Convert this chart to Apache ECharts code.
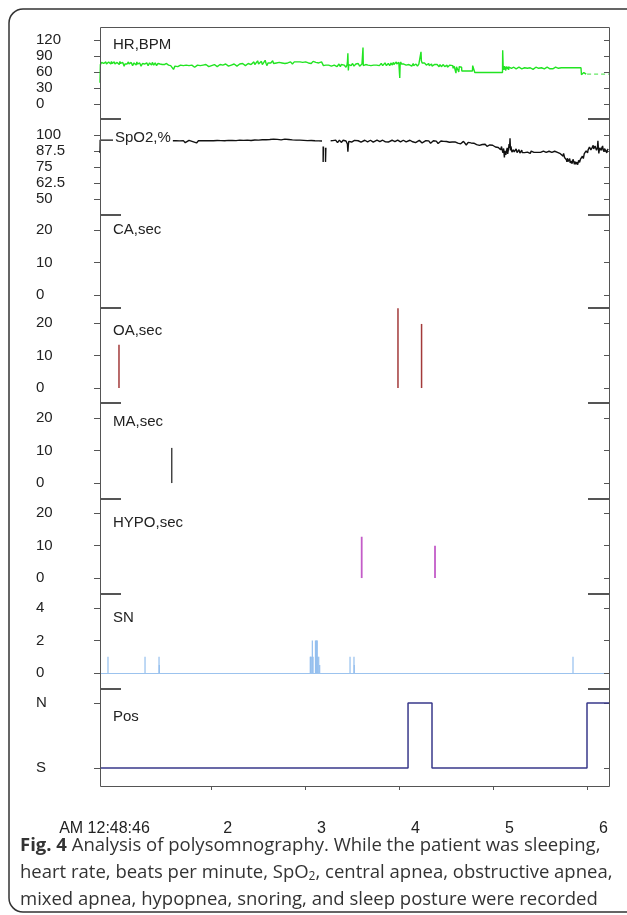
<!DOCTYPE html>
<html>
<head>
<meta charset="utf-8">
<script src="https://cdn.jsdelivr.net/npm/echarts@6/dist/echarts.min.js"></script>
<style>
  html, body { margin: 0; padding: 0; background: #fff; }
  #chart-container { width: 627px; height: 915px; }
</style>
</head>
<body>
<div id="chart-container"></div>
<script>
// time in decimal hours after midnight (0.813 = 12:48:46 AM)
var tStart = 0.813;
var tEnd = 6.228;

var xLabelValues = [0.813, 2, 3, 4, 5, 6];
var xLabelTexts = ["AM 12:48:46", "2", "3", "4", "5", "6"];
var xTickValues = [2, 3, 4, 5, 6];

var panelNames = ["HR,BPM", "SpO2,%", "CA,sec", "OA,sec", "MA,sec", "HYPO,sec", "SN", "Pos"];
var hrTicks = [0, 30, 60, 90, 120];
var spo2Ticks = [50, 62.5, 75, 87.5, 100];
var secTicks = [0, 10, 20];
var snTicks = [0, 2, 4];
var posTicks = [0, 1];
var posLabels = ["S", "N"];

var hrData = [
  [0.813,40],[0.817,74],[0.83,78],[0.838,75],[0.845,80],[0.852,76],[0.86,77],[0.868,74],[0.875,79],[0.882,75],
  [0.89,77],[0.898,74],[0.905,79],[0.912,76],[0.92,78],[0.928,75],[0.935,80],[0.942,76],[0.95,77],[0.958,74],
  [0.965,79],[0.972,75],[0.98,73],[0.988,77],[0.995,78],[1.002,75],[1.01,77],[1.018,74],[1.025,80],[1.032,76],
  [1.04,74],[1.048,77],[1.055,78],[1.062,75],[1.07,71],[1.078,75],[1.085,77],[1.092,74],[1.10,75],[1.108,73],
  [1.115,79],[1.122,75],[1.13,76],[1.138,73],[1.145,78],[1.152,75],[1.16,72],[1.168,75],[1.175,77],[1.182,74],
  [1.19,76],[1.198,73],[1.205,79],[1.212,75],[1.22,73],[1.228,76],[1.235,77],[1.242,74],[1.25,71],[1.258,74],
  [1.265,76],[1.272,74],[1.28,78],[1.288,75],[1.295,73],[1.302,76],[1.31,77],[1.318,74],[1.325,72],[1.332,75],
  [1.34,77],[1.348,74],[1.355,76],[1.362,73],[1.37,78],[1.378,75],[1.385,73],[1.392,76],[1.40,77],[1.408,74],
  [1.415,72],[1.422,75],[1.43,76],[1.438,74],[1.445,78],[1.452,75],[1.46,73],[1.468,76],[1.475,74],[1.482,76],
  [1.49,77],[1.498,74],[1.505,72],[1.512,75],[1.52,76],[1.528,73],[1.535,75],[1.542,73],[1.55,76],[1.565,72],
  [1.58,74],[1.595,65],[1.61,71],[1.625,73],[1.64,70],[1.655,72],[1.67,73],[1.685,71],[1.70,72],[1.715,70],
  [1.73,73],[1.745,71],[1.76,72],[1.775,70],[1.79,73],[1.805,71],[1.82,69],[1.835,72],[1.85,73],[1.865,71],
  [1.88,72],[1.895,70],[1.91,73],[1.925,71],[1.94,74],[1.955,72],[1.97,70],[1.985,73],[2.00,72],[2.015,71],
  [2.03,74],[2.045,72],[2.06,70],[2.075,73],[2.09,74],[2.105,72],[2.12,73],[2.135,71],[2.15,75],[2.165,72],
  [2.18,71],[2.195,74],[2.21,73],[2.225,71],[2.24,75],[2.255,73],[2.27,71],[2.285,74],[2.30,75],[2.315,72],
  [2.33,76],[2.345,73],[2.36,72],[2.375,75],[2.39,76],[2.40,73],[2.41,78],[2.42,74],[2.43,72],[2.44,77],
  [2.45,79],[2.46,74],[2.47,76],[2.48,73],[2.49,81],[2.50,75],[2.51,73],[2.52,78],[2.53,80],[2.54,74],
  [2.55,77],[2.56,75],[2.57,82],[2.58,76],[2.59,72],[2.60,77],[2.61,79],[2.62,74],[2.63,77],[2.64,75],
  [2.65,81],[2.66,76],[2.67,73],[2.68,78],[2.69,77],[2.70,74],[2.71,76],[2.72,78],[2.73,80],[2.74,75],
  [2.75,77],[2.76,74],[2.77,79],[2.78,76],[2.79,74],[2.80,78],[2.81,77],[2.82,75],[2.83,77],[2.84,79],
  [2.85,78],[2.86,75],[2.87,77],[2.88,79],[2.89,76],[2.90,78],[2.91,79],[2.92,76],[2.93,77],[2.94,79],
  [2.95,78],[2.96,76],[2.97,78],[2.98,79],[2.99,77],[3.00,79],[3.01,76],[3.02,78],[3.03,77],[3.04,79],
  [3.05,78],[3.06,76],[3.07,78],[3.08,80],[3.09,78],[3.10,77],[3.11,78],[3.12,76],[3.13,79],[3.14,77],
  [3.15,78],[3.16,76],[3.17,79],[3.185,78],[3.19,72],[3.20,74],[3.205,71],[3.215,73],[3.22,71],[3.23,74],
  [3.235,70],[3.245,73],[3.25,72],[3.26,70],[3.265,73],[3.275,71],[3.28,74],[3.29,72],[3.295,70],[3.305,73],
  [3.31,71],[3.32,74],[3.325,72],[3.335,70],[3.34,73],[3.35,72],[3.355,75],[3.365,72],[3.37,70],[3.38,74],
  [3.385,72],[3.395,74],[3.40,71],[3.41,73],[3.415,75],[3.425,72],[3.43,69],[3.44,73],[3.445,78],[3.450,95],
  [3.455,63],[3.46,74],[3.465,71],[3.47,73],[3.48,75],[3.485,72],[3.49,74],[3.50,76],[3.505,73],[3.515,71],
  [3.52,74],[3.53,73],[3.535,75],[3.545,72],[3.55,74],[3.56,76],[3.565,73],[3.575,71],[3.58,74],[3.59,73],
  [3.60,75],[3.608,73],[3.611,106],[3.614,72],[3.62,75],[3.625,73],[3.635,71],[3.64,74],[3.65,72],[3.655,75],
  [3.665,73],[3.67,71],[3.68,74],[3.685,76],[3.695,72],[3.70,74],[3.71,72],[3.715,75],[3.725,73],[3.73,71],
  [3.74,74],[3.745,76],[3.755,73],[3.76,72],[3.77,74],[3.775,75],[3.785,72],[3.79,71],[3.80,74],[3.805,76],
  [3.815,73],[3.82,72],[3.83,75],[3.835,73],[3.845,77],[3.85,74],[3.86,72],[3.865,75],[3.875,73],[3.88,76],
  [3.89,74],[3.895,72],[3.905,75],[3.91,77],[3.92,73],[3.925,75],[3.935,78],[3.94,74],[3.95,76],[3.955,73],
  [3.965,79],[3.97,75],[3.98,77],[3.985,74],[3.992,78],[3.998,75],[4.002,49],[4.006,74],[4.012,79],[4.02,75],
  [4.03,73],[4.04,77],[4.045,75],[4.055,72],[4.06,75],[4.07,73],[4.075,76],[4.085,73],[4.09,71],[4.10,74],
  [4.105,72],[4.115,75],[4.12,73],[4.13,71],[4.135,74],[4.145,76],[4.15,72],[4.16,74],[4.165,72],[4.175,75],
  [4.18,73],[4.19,71],[4.195,74],[4.205,75],[4.21,72],[4.22,74],[4.225,75],[4.228,98],[4.232,81],[4.24,77],
  [4.25,78],[4.255,75],[4.265,77],[4.27,74],[4.28,76],[4.285,73],[4.295,75],[4.30,74],[4.31,76],[4.315,72],
  [4.325,74],[4.33,73],[4.34,75],[4.345,71],[4.355,74],[4.36,72],[4.37,74],[4.375,71],[4.385,73],[4.39,72],
  [4.40,74],[4.405,71],[4.415,73],[4.42,70],[4.43,74],[4.435,72],[4.445,70],[4.45,73],[4.46,71],[4.465,74],
  [4.475,72],[4.48,70],[4.49,73],[4.495,71],[4.505,73],[4.51,69],[4.52,72],[4.525,70],[4.535,73],[4.54,71],
  [4.55,72],[4.555,70],[4.565,72],[4.57,67],[4.58,71],[4.585,72],[4.595,70],[4.60,58],[4.605,70],[4.615,72],
  [4.62,70],[4.63,60],[4.635,70],[4.645,69],[4.655,70],[4.66,69],[4.662,62],[4.775,62],[4.778,72],[4.79,70],
  [4.80,59],[5.095,59],[5.097,101],[5.102,70],[5.106,67],[5.11,64],[5.115,71],[5.12,69],[5.125,72],[5.13,63],
  [5.135,70],[5.14,68],[5.145,72],[5.15,66],[5.155,70],[5.16,64],[5.165,69],[5.17,67],[5.175,70],[5.18,66],
  [5.185,69],[5.19,67],[5.195,70],[5.20,65],[5.205,68],[5.21,66],[5.215,69],[5.22,67],[5.23,68],[5.24,66],
  [5.25,68],[5.26,65],[5.27,69],[5.28,67],[5.29,68],[5.30,66],[5.31,69],[5.32,67],[5.33,68],[5.34,65],
  [5.35,68],[5.36,67],[5.37,69],[5.38,66],[5.39,68],[5.40,67],[5.41,69],[5.42,65],[5.43,68],[5.44,67],
  [5.45,69],[5.46,66],[5.47,68],[5.48,67],[5.49,69],[5.50,65],[5.51,68],[5.52,67],[5.53,69],[5.54,66],
  [5.55,68],[5.56,66],[5.57,69],[5.58,67],[5.59,68],[5.60,66],[5.61,68],[5.62,69],[5.63,66],[5.64,68],
  [5.65,67],[5.66,69],[5.67,66],[5.68,68],[5.69,67],[5.70,68],[5.71,66],[5.72,68],[5.73,67],[5.74,68],
  [5.93,68],[5.935,55],[5.95,56],[5.96,59],[5.97,57],[5.985,56]
];
var hrTailData = [[5.995,56],[6.228,56]];

var spo2Data = [
  [0.813,86],[0.815,96],[0.95,96],[1.58,95.5],[1.60,95.8],[1.62,95.6],[1.64,94.6],[1.66,95.4],[1.68,95.7],[1.70,95.6],
  [1.72,94.0],[1.74,95.5],[1.76,95.8],[1.78,95.6],[1.80,94.8],[1.82,95.4],[1.84,93.8],[1.86,95.5],[1.88,95.9],[1.90,95.6],
  [1.92,94.7],[1.94,95.5],[1.96,94.1],[1.98,95.6],[2.00,95.9],[2.02,95.5],[2.04,94.6],[2.06,95.7],[2.08,94.3],[2.10,95.6],
  [2.12,96.0],[2.14,95.5],[2.16,94.8],[2.18,95.8],[2.20,94.4],[2.22,95.7],[2.24,96.1],[2.26,95.6],[2.28,94.9],[2.30,96.0],
  [2.32,94.6],[2.34,95.8],[2.36,96.3],[2.38,96.0],[2.40,95.0],[2.42,95.7],[2.44,94.6],[2.46,96.1],[2.48,96.6],[2.50,96.0],
  [2.52,95.1],[2.54,96.3],[2.56,95.0],[2.58,96.3],[2.60,96.8],[2.62,96.5],[2.64,95.1],[2.66,96.8],[2.68,97.2],[2.70,96.6],
  [2.72,97.4],[2.74,96.2],[2.76,97.0],[2.78,96.8],[2.80,95.4],[2.82,96.5],[2.84,96.9],[2.86,96.2],[2.88,95.3],[2.90,96.0],
  [2.92,94.8],[2.94,96.0],[2.96,96.3],[2.98,95.8],[3.00,94.9],[3.02,95.6],[3.04,94.3],[3.06,95.7],[3.08,96.0],[3.10,95.5],
  [3.12,94.7],[3.14,95.4],[3.16,94.4],[3.175,95.3],[3.18,"-"],
  [3.187,91],[3.187,79],[3.19,79.5],[3.19,91],[3.20,"-"],[3.212,90],[3.212,79],[3.216,80],[3.216,90],[3.23,"-"],
  [3.267,95.5],[3.28,96.0],[3.29,95.6],[3.30,94.3],[3.31,95.4],[3.32,96.0],[3.33,95.5],[3.34,94.0],[3.35,95.2],[3.36,96.0],
  [3.37,95.6],[3.38,94.2],[3.39,95.2],[3.40,95.9],[3.41,94.5],[3.42,95.6],[3.43,95.3],[3.44,94.0],[3.445,93.0],[3.450,87],
  [3.455,92],[3.46,95.0],[3.47,95.8],[3.48,95.5],[3.49,94.5],[3.51,95.3],[3.52,95.8],[3.53,95.5],[3.54,94.6],[3.56,95.5],
  [3.58,95.8],[3.59,94.5],[3.61,95.6],[3.63,95.9],[3.64,95.4],[3.66,94.7],[3.67,95.7],[3.69,95.9],[3.70,95.4],[3.72,94.4],
  [3.74,95.6],[3.76,95.9],[3.77,95.5],[3.79,94.8],[3.80,95.7],[3.82,95.9],[3.83,95.4],[3.85,94.6],[3.86,95.6],[3.88,94.5],
  [3.90,95.7],[3.92,95.9],[3.93,95.6],[3.95,94.8],[3.96,95.8],[3.98,96.0],[3.99,95.5],[4.01,94.6],[4.02,95.4],[4.04,95.9],
  [4.05,95.7],[4.07,94.6],[4.09,95.6],[4.11,95.9],[4.12,95.5],[4.14,94.7],[4.15,95.4],[4.17,94.0],[4.19,95.3],[4.21,95.8],
  [4.22,95.0],[4.23,94.5],[4.24,93.8],[4.26,95.2],[4.28,95.6],[4.29,94.6],[4.30,95.0],[4.31,95.4],[4.32,94.5],[4.33,93.6],
  [4.35,94.9],[4.36,95.5],[4.37,94.4],[4.38,94.9],[4.39,95.2],[4.40,94.3],[4.41,93.4],[4.42,94.5],[4.43,94.8],[4.44,95.3],
  [4.45,94.5],[4.46,94.0],[4.47,95.0],[4.48,94.4],[4.49,93.7],[4.50,94.9],[4.51,94.7],[4.52,95.2],[4.53,94.3],[4.54,93.9],
  [4.55,95.1],[4.56,94.5],[4.57,93.3],[4.58,94.2],[4.59,94.6],[4.60,95.1],[4.61,94.0],[4.62,93.6],[4.63,95.0],[4.64,94.4],
  [4.65,93.1],[4.66,94.0],[4.67,94.5],[4.68,95.0],[4.69,94.0],[4.70,93.5],[4.71,92.2],[4.72,93.4],[4.73,94.2],[4.74,94.8],
  [4.745,95.4],[4.75,94.2],[4.76,93.8],[4.77,93.0],[4.78,92.6],[4.79,93.6],[4.80,93.4],[4.81,92.4],[4.82,92.5],[4.83,93.4],
  [4.84,93.0],[4.85,91.9],[4.86,92.1],[4.87,93.0],[4.88,92.6],[4.89,91.6],[4.90,91.8],[4.91,92.8],[4.92,92.3],[4.93,91.2],
  [4.94,91.5],[4.95,92.5],[4.96,92.2],[4.97,91.0],[4.98,91.3],[4.99,92.0],[5.00,91.8],[5.01,90.8],[5.02,90.6],[5.03,91.6],
  [5.04,91.2],[5.05,90.2],[5.06,90.5],[5.07,89.6],[5.075,88.5],[5.085,91],[5.09,88.6],[5.10,86],[5.107,89.5],[5.115,82.4],
  [5.12,87.6],[5.125,89],[5.13,84.4],[5.135,85],[5.14,88.4],[5.145,90],[5.15,85.2],[5.155,86.5],[5.16,89.5],[5.165,93],
  [5.17,90],[5.175,97.4],[5.18,88],[5.185,91.2],[5.19,90],[5.195,86.6],[5.20,86.5],[5.21,88.4],[5.215,89],[5.22,86.8],
  [5.23,87],[5.24,89.2],[5.245,88.5],[5.25,86.2],[5.26,86.5],[5.27,88.6],[5.275,88],[5.28,85.9],[5.29,87],[5.30,88.1],
  [5.305,86.3],[5.31,85.8],[5.32,87.5],[5.33,86.2],[5.34,86.4],[5.35,87.3],[5.36,86.6],[5.37,86.4],[5.38,86.4],[5.39,85.6],
  [5.40,87.4],[5.41,86.4],[5.43,86.4],[5.44,86.5],[5.45,85.6],[5.46,86.4],[5.47,87.3],[5.48,86.4],[5.50,86.4],[5.51,86.4],
  [5.52,85.6],[5.53,87.4],[5.54,86.4],[5.56,86.4],[5.57,86.4],[5.58,85.6],[5.59,87.3],[5.60,86.4],[5.62,86.4],[5.63,86.4],
  [5.64,85.6],[5.65,87.3],[5.66,86.4],[5.68,86.4],[5.69,86.4],[5.70,87.0],[5.71,85.4],[5.72,85.0],[5.73,84.0],[5.74,83.5],
  [5.745,85.6],[5.75,85],[5.755,82.4],[5.76,81],[5.765,83.6],[5.77,84],[5.775,80.6],[5.78,79],[5.785,81.8],[5.79,82.5],
  [5.795,79.4],[5.80,78],[5.805,80.8],[5.81,81.5],[5.815,78.2],[5.82,77.5],[5.825,79.8],[5.83,80.5],[5.835,77.6],[5.84,78],
  [5.845,81],[5.85,82],[5.855,78.6],[5.86,77],[5.865,79.4],[5.87,80],[5.875,77.2],[5.88,76.5],[5.885,78.8],[5.89,79.5],
  [5.895,76.8],[5.90,77],[5.905,80.2],[5.91,81],[5.915,78.6],[5.92,78],[5.925,81.2],[5.93,82],[5.94,80],[5.945,83.4],
  [5.95,84],[5.955,81.6],[5.96,82],[5.965,85.4],[5.97,86],[5.975,84],[5.98,84.5],[5.985,87.6],[5.99,88],[6.00,86],
  [6.005,88.2],[6.01,89],[6.02,90.6],[6.03,91],[6.035,88.4],[6.045,87],[6.05,90.4],[6.06,92],[6.065,89.2],[6.075,88],
  [6.08,91.4],[6.09,90.5],[6.095,88],[6.10,86.5],[6.105,90.2],[6.11,95.5],[6.115,89.6],[6.12,85.6],[6.125,88.4],[6.13,90],
  [6.14,91.4],[6.145,88],[6.15,89.6],[6.16,91.5],[6.165,88.6],[6.175,87],[6.18,89.4],[6.19,90],[6.195,87.6],[6.205,86],
  [6.21,88.2],[6.22,89]
];

var caData = [];
var oaData = [[1.015,13.3],[3.983,24.5],[4.234,19.7]];
var maData = [[1.576,10.8]];
var hypoData = [[3.597,12.7],[4.377,9.9]];
var snData = [
  [0.898,1],[1.292,1],[1.441,1],[1.444,0.5],
  [3.050,1],[3.055,1],[3.060,1],[3.072,2],[3.080,1],[3.105,2],[3.112,2],[3.118,2],[3.124,2],[3.130,1],[3.140,1],[3.150,0.5],
  [3.473,1],[3.515,1],[3.518,0.5],[5.845,1]
];
var posData = [[0.813,0],[4.09,1],[4.345,0],[5.994,1],[6.228,1]];

// layout
var panelEdges = [27, 119, 215, 308, 403, 499, 594, 689, 786];
var yRanges = [[-28.1,144.4],[37.5,112.5],[-4,24.6],[-4.6,24.6],[-4.9,24.6],[-4.9,24.3],[-0.98,4.86],[-0.277,1.215]];
var yTicks = [hrTicks, spo2Ticks, secTicks, secTicks, secTicks, secTicks, snTicks, posTicks];
var nameTops = [37, 130, 222, 323, 414, 515, 610, 709];
var plotLeft = 100, plotRight = 609;

var font = "Liberation Sans";
var frameColor = "#555";

var grids = [], xAxes = [], yAxes = [], titles = [];
for (var i = 0; i < 8; i++) {
  grids.push({ left: plotLeft, width: plotRight - plotLeft, top: panelEdges[i], height: panelEdges[i + 1] - panelEdges[i] });

  var xa = { gridIndex: i, type: "value", min: tStart, max: tEnd, show: false };
  if (i === 6) {
    xa = {
      gridIndex: i, type: "value", min: tStart, max: tEnd,
      axisLine: { show: true, onZero: true, lineStyle: { color: "#9cc3ee", width: 1.2 } },
      axisTick: { show: false }, axisLabel: { show: false }, splitLine: { show: false }
    };
  }
  if (i === 7) {
    xa = {
      gridIndex: i, type: "value", min: tStart, max: tEnd,
      axisLine: { show: false, onZero: false },
      splitLine: { show: false },
      axisTick: { show: true, length: 4, customValues: xTickValues, lineStyle: { color: frameColor } },
      axisLabel: {
        customValues: xLabelValues,
        margin: 35,
        formatter: function (v) {
          var k = 0;
          for (var j = 0; j < xLabelValues.length; j++) {
            if (Math.abs(xLabelValues[j] - v) < 1e-6) k = j;
          }
          return (k === 0 ? "{a|" : "{b|") + xLabelTexts[k] + "}";
        },
        rich: {
          a: { fontSize: 16, fontFamily: font, color: "#222", padding: [0, 0, 0, 9] },
          b: { fontSize: 16, fontFamily: font, color: "#222", padding: [0, 0, 0, 32] }
        }
      }
    };
  }
  xAxes.push(xa);

  (function (ticks, idx) {
    yAxes.push({
      gridIndex: idx, type: "value", position: "left",
      min: yRanges[idx][0], max: yRanges[idx][1],
      axisLine: { show: false }, splitLine: { show: false },
      axisTick: { show: true, length: 6, customValues: ticks, lineStyle: { color: frameColor } },
      axisLabel: {
        customValues: ticks, align: "left", margin: 64,
        fontSize: 15, fontFamily: font, color: "#222",
        formatter: function (v) {
          return idx === 7 ? posLabels[Math.round(v)] : String(v);
        }
      }
    });
    yAxes.push({
      gridIndex: idx, type: "value", position: "right",
      min: yRanges[idx][0], max: yRanges[idx][1],
      axisLine: { show: false }, splitLine: { show: false },
      axisTick: { show: true, inside: true, length: 5, customValues: ticks, lineStyle: { color: frameColor } },
      axisLabel: { show: false }
    });
  })(yTicks[i], i);

  titles.push({
    text: panelNames[i], left: 113, top: nameTops[i],
    padding: i === 1 ? [0, 2, 0, 2] : 0,
    backgroundColor: i === 1 ? "#fff" : "transparent",
    textStyle: { fontSize: 15, fontWeight: "normal", fontFamily: font, color: "#222", lineHeight: 16 }
  });
}

// frame, panel separators, outer box and caption
var graphics = [
  {
    type: "rect", silent: true, z: 100,
    shape: { x: 9, y: 9, width: 680, height: 903, r: 14 },
    style: { fill: "none", stroke: "#333", lineWidth: 1.5 }
  },
  {
    type: "rect", silent: true, z: 100,
    shape: { x: plotLeft + 0.5, y: panelEdges[0] + 0.5, width: plotRight - plotLeft, height: panelEdges[8] - panelEdges[0] },
    style: { fill: "none", stroke: frameColor, lineWidth: 1 }
  }
];
for (var s = 1; s < 8; s++) {
  graphics.push({
    type: "line", silent: true, z: 100,
    shape: { x1: plotLeft, y1: panelEdges[s], x2: plotLeft + 21, y2: panelEdges[s] },
    style: { stroke: frameColor, lineWidth: 2 }
  });
  graphics.push({
    type: "line", silent: true, z: 100,
    shape: { x1: plotRight - 21, y1: panelEdges[s], x2: plotRight, y2: panelEdges[s] },
    style: { stroke: frameColor, lineWidth: 2 }
  });
}
graphics.push({
  type: "text", silent: true, z: 100, x: 20, y: 832,
  style: {
    text: "{b|Fig. 4} Analysis of polysomnography. While the patient was sleeping,\n" +
          "heart rate, beats per minute, SpO{s|2}, central apnea, obstructive apnea,\n" +
          "mixed apnea, hypopnea, snoring, and sleep posture were recorded",
    fontSize: 18.5, fontFamily: "Open Sans", fill: "#333", lineHeight: 27,
    rich: {
      b: { fontSize: 18.5, fontFamily: "Open Sans", fontWeight: "bold", fill: "#333", lineHeight: 27 },
      s: { fontSize: 12, fontFamily: "Open Sans", fill: "#333", padding: [9, 0, 0, 0] }
    }
  }
});

var dom = document.getElementById("chart-container");
var myChart = echarts.init(dom, null, { renderer: "canvas" });

var option = {
  animation: false,
  backgroundColor: "#fff",
  title: titles,
  grid: grids,
  xAxis: xAxes,
  yAxis: yAxes,
  graphic: graphics,
  series: [
    { name: "HR", type: "line", xAxisIndex: 0, yAxisIndex: 0, data: hrData, symbol: "none",
      lineStyle: { color: "#22e422", width: 1.4 } },
    { name: "HR tail", type: "line", xAxisIndex: 0, yAxisIndex: 0, data: hrTailData, symbol: "none",
      lineStyle: { color: "#66e866", width: 1.2, type: [4, 3] } },
    { name: "SpO2", type: "line", xAxisIndex: 1, yAxisIndex: 2, data: spo2Data, symbol: "none",
      lineStyle: { color: "#111", width: 1.4 } },
    { name: "CA", type: "bar", xAxisIndex: 2, yAxisIndex: 4, data: caData, barWidth: 1.5 },
    { name: "OA", type: "bar", xAxisIndex: 3, yAxisIndex: 6, data: oaData, barWidth: 1.5,
      itemStyle: { color: "#a33a3a" } },
    { name: "MA", type: "bar", xAxisIndex: 4, yAxisIndex: 8, data: maData, barWidth: 1.5,
      itemStyle: { color: "#444" } },
    { name: "HYPO", type: "bar", xAxisIndex: 5, yAxisIndex: 10, data: hypoData, barWidth: 1.8,
      itemStyle: { color: "#c35cc8" } },
    { name: "SN", type: "bar", xAxisIndex: 6, yAxisIndex: 12, data: snData, barWidth: 1.2,
      itemStyle: { color: "#94bfee" } },
    { name: "Pos", type: "line", xAxisIndex: 7, yAxisIndex: 14, data: posData, step: "end", symbol: "none",
      lineStyle: { color: "#38388a", width: 1.5 } }
  ]
};

myChart.setOption(option);
window.addEventListener("resize", myChart.resize);
</script>
</body>
</html>
